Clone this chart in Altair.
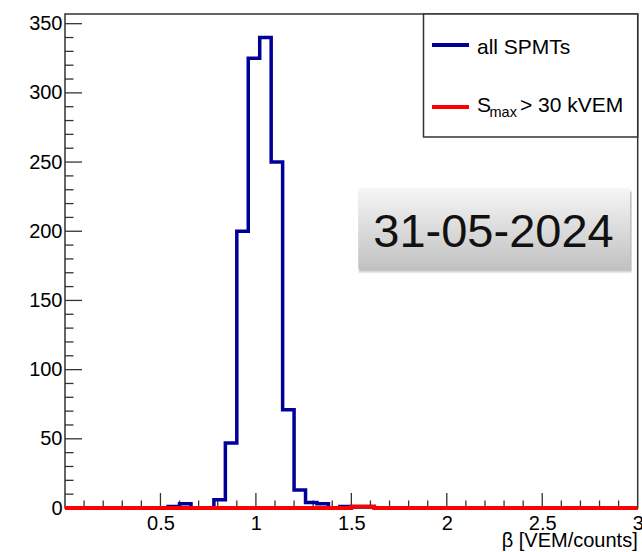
import altair as alt
import pandas as pd

# ---------------- data ----------------
x_min, x_max, n_bins = 0.0, 3.0, 50          # 50 bins of width 0.06
all_spmts = [0, 0, 0, 0, 0, 0, 0, 0, 0, 1,
             3, 0, 0, 6, 47, 200, 325, 340, 250, 71,
             13, 4, 3, 0, 1, 1, 1, 0, 0, 0,
             0, 0, 0, 0, 0, 0, 0, 0, 0, 0,
             0, 0, 0, 0, 0, 0, 0, 0, 0, 0]
smax_30 = [0, 0, 0, 0, 0, 0, 0, 0, 0, 0,
           0, 0, 0, 0, 0, 0, 0, 0, 0, 0,
           0, 0, 0, 0, 0, 1, 1, 0, 0, 0,
           0, 0, 0, 0, 0, 0, 0, 0, 0, 0,
           0, 0, 0, 0, 0, 0, 0, 0, 0, 0]
y_max = 357
x_label_values = [0.5, 1, 1.5, 2, 2.5, 3]
y_label_values = [0, 50, 100, 150, 200, 250, 300, 350]
x_minor_values = [0.1, 0.2, 0.3, 0.4, 0.6, 0.7, 0.8, 0.9, 1.1, 1.2, 1.3, 1.4,
                  1.6, 1.7, 1.8, 1.9, 2.1, 2.2, 2.3, 2.4, 2.6, 2.7, 2.8, 2.9]
x_major_values = [0.5, 1, 1.5, 2, 2.5]
y_minor_values = [v for v in range(10, 351, 10) if v % 50 != 0]
y_major_values = [50, 100, 150, 200, 250, 300, 350]
legend_labels = ["all SPMTs", "S", "max", "> 30 kVEM"]
date_label = "31-05-2024"
x_title = "β [VEM/counts]"

# ---------------- layout ----------------
W, H = 572.7, 494
FONT = "Liberation Sans"
BLUE = "#000099"
RED = "#ff0000"
AXC = "#333333"

edges = [round(x_min + i * (x_max - x_min) / n_bins, 4) for i in range(n_bins + 1)]
df_blue = pd.DataFrame({"beta": edges, "count": all_spmts + [all_spmts[-1]]})
df_red = pd.DataFrame({"beta": edges, "count": smax_30 + [smax_30[-1]]})

xs = alt.Scale(domain=[x_min, x_max], nice=False, zero=False)
ys = alt.Scale(domain=[0, y_max], nice=False, zero=True)

xaxis = alt.Axis(values=x_label_values, format="~g", ticks=False, domain=False,
                 grid=False, title=None, labelFontSize=20, labelColor="black",
                 labelFont=FONT, labelPadding=5, labelOverlap=False, labelFlush=False)
yaxis = alt.Axis(values=y_label_values, ticks=False, domain=False, grid=False,
                 title=None, labelFontSize=20, labelColor="black", labelFont=FONT,
                 labelPadding=3, labelOverlap=False, labelFlush=False)

one = pd.DataFrame({"a": [0]})

# ticks (drawn inward, ROOT style)
ytick_major = alt.Chart(pd.DataFrame({"v": y_major_values})).mark_rule(
    color=AXC, strokeWidth=1.3).encode(
    y=alt.Y("v:Q", scale=ys, axis=yaxis), x=alt.value(0), x2=alt.value(17))
ytick_minor = alt.Chart(pd.DataFrame({"v": y_minor_values})).mark_rule(
    color=AXC, strokeWidth=1.3).encode(
    y=alt.Y("v:Q", scale=ys), x=alt.value(0), x2=alt.value(8.5))
xtick_major = alt.Chart(pd.DataFrame({"v": x_major_values})).mark_rule(
    color=AXC, strokeWidth=1.3).encode(
    x=alt.X("v:Q", scale=xs, axis=xaxis), y=alt.value(H), y2=alt.value(H - 15))
xtick_minor = alt.Chart(pd.DataFrame({"v": x_minor_values})).mark_rule(
    color=AXC, strokeWidth=1.3).encode(
    x=alt.X("v:Q", scale=xs), y=alt.value(H), y2=alt.value(H - 7.5))

blue = alt.Chart(df_blue).mark_line(
    interpolate="step-after", color=BLUE, strokeWidth=3.5,
    strokeJoin="miter", strokeCap="butt").encode(
    x=alt.X("beta:Q", scale=xs), y=alt.Y("count:Q", scale=ys))
red = alt.Chart(df_red).mark_line(
    interpolate="step-after", color=RED, strokeWidth=3.8,
    strokeJoin="miter", strokeCap="butt").encode(
    x=alt.X("beta:Q", scale=xs), y=alt.Y("count:Q", scale=ys))

# x axis title
xtitle = alt.Chart(one).mark_text(
    text=x_title, align="right", baseline="alphabetic", fontSize=20,
    font=FONT, color="black").encode(x=alt.value(W), y=alt.value(533))

# legend
leg_box = alt.Chart(one).mark_rect(
    fill="white", stroke=AXC, strokeWidth=1.5).encode(
    x=alt.value(358.5), x2=alt.value(W), y=alt.value(0), y2=alt.value(123))
leg_blue = alt.Chart(one).mark_rule(color=BLUE, strokeWidth=4).encode(
    x=alt.value(367), x2=alt.value(404), y=alt.value(31))
leg_red = alt.Chart(one).mark_rule(color=RED, strokeWidth=4).encode(
    x=alt.value(367), x2=alt.value(404), y=alt.value(93))
leg_t1 = alt.Chart(one).mark_text(
    text=legend_labels[0], align="left", baseline="alphabetic", fontSize=21,
    font=FONT, color="black").encode(x=alt.value(412), y=alt.value(40))
leg_t2 = alt.Chart(one).mark_text(
    text=legend_labels[1], align="left", baseline="alphabetic", fontSize=21,
    font=FONT, color="black").encode(x=alt.value(412), y=alt.value(98))
leg_t3 = alt.Chart(one).mark_text(
    text=legend_labels[2], align="left", baseline="alphabetic", fontSize=14.5,
    font=FONT, color="black").encode(x=alt.value(424.5), y=alt.value(102.5))
leg_t4 = alt.Chart(one).mark_text(
    text=legend_labels[3], align="left", baseline="alphabetic", fontSize=21,
    font=FONT, color="black").encode(x=alt.value(455), y=alt.value(98))

# date box with shadow and gradient
bx0, bx1, by0, by1 = 293.3, 565, 174, 254.3
shadows = []
for dx, dy, op in [(1, 5, 0.10), (2, 4, 0.14), (1.5, 2.5, 0.18)]:
    shadows.append(alt.Chart(one).mark_rect(color="#555555", opacity=op).encode(
        x=alt.value(bx0 + dx - 1), x2=alt.value(bx1 + dx),
        y=alt.value(by0 + dy), y2=alt.value(by1 + dy)))
grad = alt.LinearGradient(
    gradient="linear", x1=0, x2=0, y1=0, y2=1,
    stops=[alt.GradientStop(offset=0, color="#f6f6f6"),
           alt.GradientStop(offset=1, color="#c2c2c2")])
date_box = alt.Chart(one).mark_rect(fill=grad).encode(
    x=alt.value(bx0), x2=alt.value(bx1), y=alt.value(by0), y2=alt.value(by1))
date_txt = alt.Chart(one).mark_text(
    text=date_label, align="center", baseline="alphabetic", fontSize=47,
    font="Liberation Sans", color="#111111").encode(
    x=alt.value(428.5), y=alt.value(232.7))

chart = alt.layer(
    ytick_major, ytick_minor, xtick_major, xtick_minor,
    blue, red, xtitle,
    leg_box, leg_blue, leg_red, leg_t1, leg_t2, leg_t3, leg_t4,
    *shadows, date_box, date_txt
).resolve_scale(x="shared", y="shared").properties(
    width=W, height=H, autosize="none",
    padding={"left": 65, "top": 14, "right": 642 - 65 - W, "bottom": 552 - 14 - H},
    background="white"
).configure_view(stroke=AXC, strokeWidth=1.5)

chart.save("out.html", embed_options={"renderer": "svg", "actions": False})
